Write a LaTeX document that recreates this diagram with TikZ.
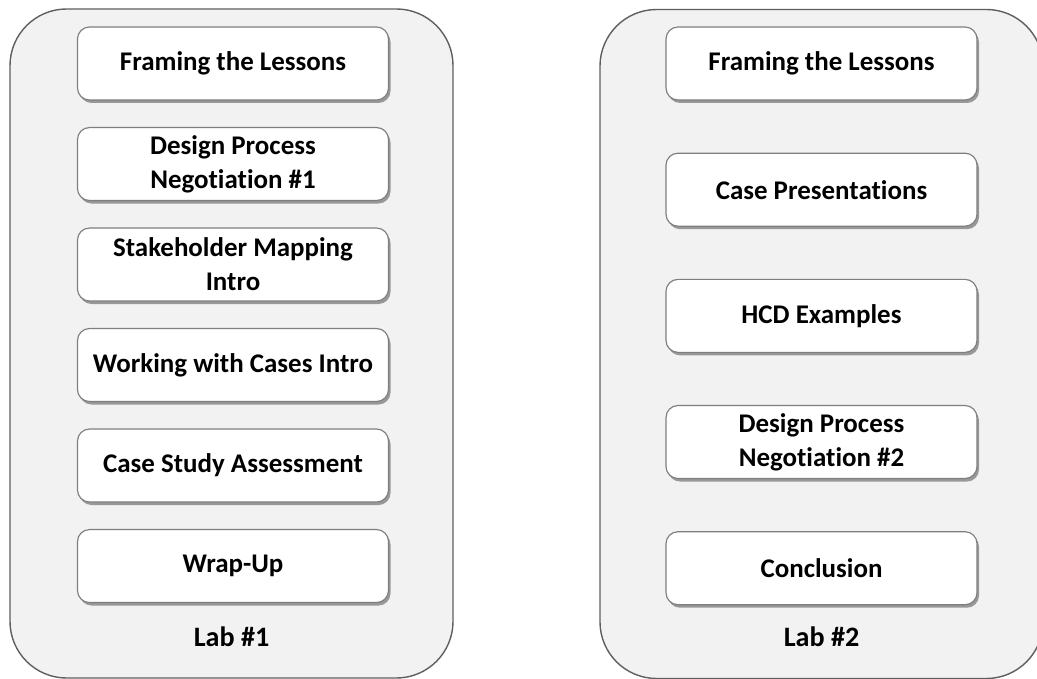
\documentclass[tikz,border=0pt]{standalone}
\usepackage{fontspec}
\setmainfont{Carlito}[RawFeature={-liga}]
\usetikzlibrary{positioning,shadows}
\definecolor{panelfill}{HTML}{F2F2F2}
\definecolor{paneledge}{HTML}{5F5F5F}
\definecolor{boxedge}{HTML}{7F7F7F}

\begin{document}
\begin{tikzpicture}[
    x=0.03cm, y=-0.03cm,
    panel/.style={rectangle, rounded corners=1.7cm, draw=paneledge, line width=1.2pt, fill=panelfill, minimum width=13.29cm, minimum height=20.07cm},
    box/.style={rectangle, rounded corners=0.36cm, draw=boxedge, line width=1pt, fill=white, minimum width=9.33cm, minimum height=2.19cm, align=center, font=\fontsize{23}{29}\selectfont\bfseries, drop shadow={shadow xshift=0.06cm, shadow yshift=-0.09cm, fill=black!55, opacity=0.7}},
    labtitle/.style={font=\fontsize{24}{29}\selectfont\bfseries}
]
    \useasboundingbox (0,0) rectangle (1037,679);
    \node[panel] (lab1) at (231.5,343.5) {};
    \node[panel] (lab2) at (821.5,344) {};

    % Lab #1
    \node[box] (l1) at (233,63.5) {Framing the Lessons};
    \node[box, below=0.79cm of l1] (l2) {Design Process\\Negotiation \#1};
    \node[box, below=0.79cm of l2] (l3) {Stakeholder Mapping\\Intro};
    \node[box, below=0.79cm of l3] (l4) {Working with Cases Intro};
    \node[box, below=0.79cm of l4] (l5) {Case Study Assessment};
    \node[box, below=0.79cm of l5] (l6) {Wrap-Up};
    \node[labtitle] (t1) at (231.5,637) {Lab \#1};

    % Lab #2
    \node[box] (r1) at (821.5,63.5) {Framing the Lessons};
    \node[box, below=1.56cm of r1] (r2) {Case Presentations};
    \node[box, below=1.56cm of r2] (r3) {HCD Examples};
    \node[box, below=1.56cm of r3] (r4) {Design Process\\Negotiation \#2};
    \node[box, below=1.56cm of r4] (r5) {Conclusion};
    \node[labtitle] (t2) at (821.5,637) {Lab \#2};
\end{tikzpicture}
\end{document}
